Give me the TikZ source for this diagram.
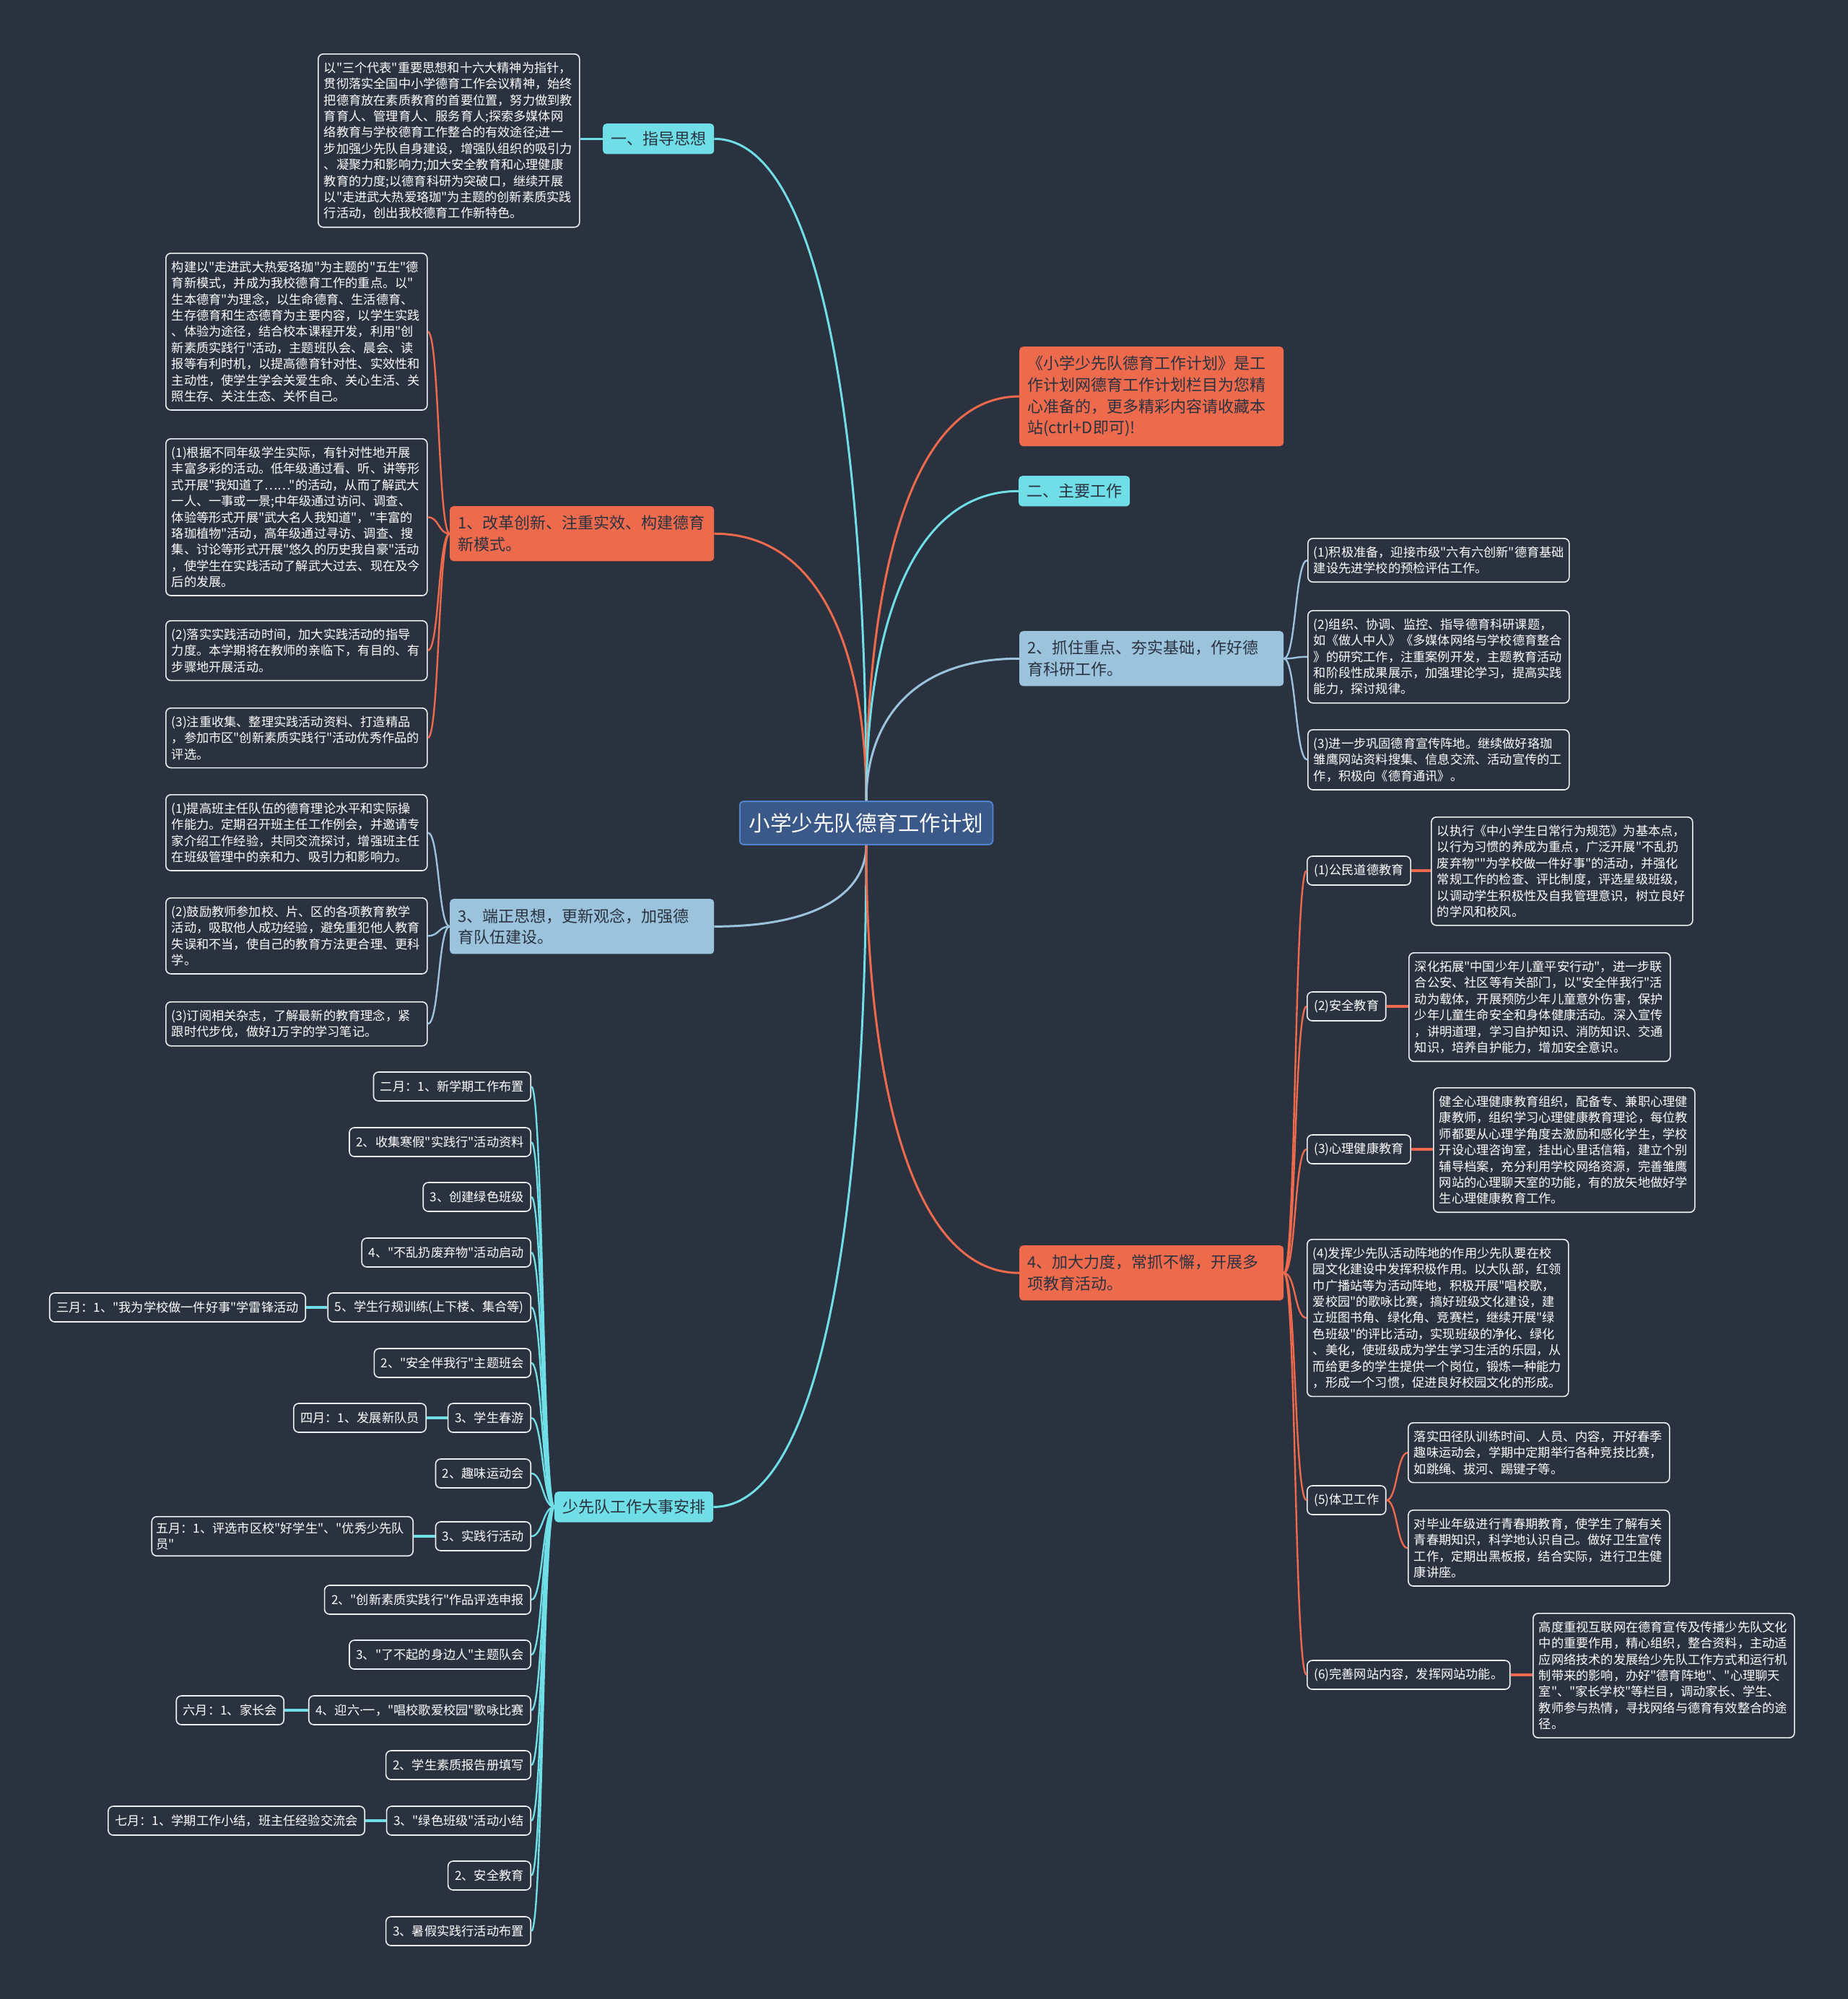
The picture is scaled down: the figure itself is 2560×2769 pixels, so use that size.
\documentclass[tikz,border=0pt]{standalone}
\usepackage{fontspec}
\newfontfamily\cjk{Noto Sans CJK SC}
\newfontfamily\latin{Noto Sans}
\usepackage{tikz}
\usetikzlibrary{calc}
\definecolor{BgDark}{RGB}{42,50,64}
\definecolor{TopicCyan}{RGB}{112,222,230}
\definecolor{TopicOrange}{RGB}{238,106,77}
\definecolor{TopicBlue}{RGB}{156,195,220}
\definecolor{RootBlue}{RGB}{58,88,136}
\definecolor{RootEdge}{RGB}{80,130,205}
\definecolor{LeafEdge}{RGB}{236,238,242}
\tikzset{
  rootnode/.style={fill=RootBlue, draw=RootEdge, line width=2pt, rounded corners=5pt,
    text=white, font=\cjk\fontsize{29.5}{36}\selectfont, inner xsep=13pt, inner ysep=16pt},
  topic/.style={rounded corners=5pt, text=BgDark, font=\cjk\fontsize{22}{29.6}\selectfont,
    inner xsep=11pt, inner ysep=11pt, align=left, anchor=north west},
  topiccyan/.style={topic, fill=TopicCyan},
  topicorange/.style={topic, fill=TopicOrange},
  topicblue/.style={topic, fill=TopicBlue},
  widetopic/.style={text width=344pt, inner ysep=13pt},
  leaf/.style={draw=LeafEdge, line width=1.6pt, fill=BgDark, rounded corners=7pt, text=white,
    font=\cjk\fontsize{17.2}{22.4}\selectfont, inner xsep=9.5pt, inner ysep=4pt, minimum height=40pt},
  note/.style={leaf, minimum height=0pt, text width=346pt, inner xsep=8pt, inner ysep=11pt,
    align=left, anchor=north west},
  mainline/.style={line width=3pt},
  subline/.style={line width=2.4pt},
  linkline/.style={line width=4pt},
}
\begin{document}
\begin{tikzpicture}[x=1pt,y=-1pt]
\fill[BgDark] (0,0) rectangle (2560,2769);
\useasboundingbox (0,0) rectangle (2560,2769);

\node[rootnode] (root) at (1200,1140) {小学少先队德育工作计划};

% first level
\node[topiccyan] (t1) at (835,171) {一、指导思想};
\node[topicorange, widetopic] (t2) at (623,701) {1、改革创新、注重实效、构建德育\\新模式。};
\node[topicblue, widetopic] (t3) at (623,1245) {3、端正思想，更新观念，加强德\\育队伍建设。};
\node[topiccyan] (t4) at (768,2066) {少先队工作大事安排};
\node[topicorange, widetopic] (r0) at (1412,480) {《小学少先队德育工作计划》是工\\作计划网德育工作计划栏目为您精\\心准备的，更多精彩内容请收藏本\\站(ctrl+D即可)!};
\node[topiccyan] (r1) at (1411,659) {二、主要工作};
\node[topicblue, widetopic] (r2) at (1412,874) {2、抓住重点、夯实基础，作好德\\育科研工作。};
\node[topicorange, widetopic] (r3) at (1412,1725) {4、加大力度，常抓不懈，开展多\\项教育活动。};

\foreach \n/\s/\a/\e in {t1/TopicCyan/north/east, t2/TopicOrange/north/east,
    r0/TopicOrange/north/west, r1/TopicCyan/north/west, r2/TopicBlue/north/west,
    t3/TopicBlue/south/east, t4/TopicCyan/south/east, r3/TopicOrange/south/west}
  \draw[mainline, \s] (root.\a) .. controls ($(root.\a)!0.5!(root.\a |- \n.\e)$)
    and ($(root.\a |- \n.\e)!0.25!(\n.\e)$) .. (\n.\e);

% left side
\node[note] (l0) at (440,74) {以"三个代表"重要思想和十六大精神为指针，\\贯彻落实全国中小学德育工作会议精神，始终\\把德育放在素质教育的首要位置，努力做到教\\育育人、管理育人、服务育人;探索多媒体网\\络教育与学校德育工作整合的有效途径;进一\\步加强少先队自身建设，增强队组织的吸引力\\、凝聚力和影响力;加大安全教育和心理健康\\教育的力度;以德育科研为突破口，继续开展\\以"走进武大热爱珞珈"为主题的创新素质实践\\行活动，创出我校德育工作新特色。};
\draw[mainline, TopicCyan] (t1.west) -- (t1.west -| l0.east);

\node[note] (b1) at (229,350) {构建以"走进武大热爱珞珈"为主题的"五生"德\\育新模式，并成为我校德育工作的重点。以"\\生本德育"为理念，以生命德育、生活德育、\\生存德育和生态德育为主要内容，以学生实践\\、体验为途径，结合校本课程开发，利用"创\\新素质实践行"活动，主题班队会、晨会、读\\报等有利时机，以提高德育针对性、实效性和\\主动性，使学生学会关爱生命、关心生活、关\\照生存、关注生态、关怀自己。};
\node[note] (b2) at (229,607) {(1)根据不同年级学生实际，有针对性地开展\\丰富多彩的活动。低年级通过看、听、讲等形\\式开展"我知道了……"的活动，从而了解武大\\一人、一事或一景;中年级通过访问、调查、\\体验等形式开展"武大名人我知道"，"丰富的\\珞珈植物"活动，高年级通过寻访、调查、搜\\集、讨论等形式开展"悠久的历史我自豪"活动\\，使学生在实践活动了解武大过去、现在及今\\后的发展。};
\node[note] (b3) at (229,859) {(2)落实实践活动时间，加大实践活动的指导\\力度。本学期将在教师的亲临下，有目的、有\\步骤地开展活动。};
\node[note] (b4) at (229,980) {(3)注重收集、整理实践活动资料、打造精品\\，参加市区"创新素质实践行"活动优秀作品的\\评选。};
\foreach \c in {b1,b2,b3,b4}
  \draw[subline, TopicOrange] (t2.west) .. controls +(-16,0) and +(16,0) .. (\c.east);

\node[note] (c1) at (229,1100) {(1)提高班主任队伍的德育理论水平和实际操\\作能力。定期召开班主任工作例会，并邀请专\\家介绍工作经验，共同交流探讨，增强班主任\\在班级管理中的亲和力、吸引力和影响力。};
\node[note] (c2) at (229,1243) {(2)鼓励教师参加校、片、区的各项教育教学\\活动，吸取他人成功经验，避免重犯他人教育\\失误和不当，使自己的教育方法更合理、更科\\学。};
\node[note] (c3) at (229,1387) {(3)订阅相关杂志，了解最新的教育理念，紧\\跟时代步伐，做好1万字的学习笔记。};
\foreach \c in {c1,c2,c3}
  \draw[subline, TopicBlue] (t3.west) .. controls +(-16,0) and +(16,0) .. (\c.east);

% events list
\foreach \t/\y [count=\i] in {{二月：1、新学期工作布置}/1505, {2、收集寒假"实践行"活动资料}/1582,
    {3、创建绿色班级}/1658, {4、"不乱扔废弃物"活动启动}/1735, {5、学生行规训练(上下楼、集合等)}/1811,
    {2、"安全伴我行"主题班会}/1888, {3、学生春游}/1964, {2、趣味运动会}/2041,
    {3、实践行活动}/2128, {2、"创新素质实践行"作品评选申报}/2216, {3、"了不起的身边人"主题队会}/2292,
    {4、迎六{\latin ·}一，"唱校歌爱校园"歌咏比赛}/2369, {2、学生素质报告册填写}/2445,
    {3、"绿色班级"活动小结}/2522, {2、安全教育}/2598, {3、暑假实践行活动布置}/2675}
  \node[leaf, anchor=east] (e\i) at (736,\y) {\t};
\foreach \i in {1,...,16}
  \draw[subline, TopicCyan] (t4.west) .. controls +(-16,0) and +(16,0) .. (e\i.east);

\node[leaf, anchor=east] (m3) at (424,1811) {三月：1、"我为学校做一件好事"学雷锋活动};
\node[leaf, anchor=east] (m4) at (591,1964) {四月：1、发展新队员};
\node[note, anchor=east, text width=350pt, inner xsep=6pt, inner ysep=8pt] (m5) at (573,2128) {五月：1、评选市区校"好学生"、"优秀少先队\\员"};
\node[leaf, anchor=east] (m6) at (394,2369) {六月：1、家长会};
\node[leaf, anchor=east] (m7) at (506,2522) {七月：1、学期工作小结，班主任经验交流会};
\foreach \e/\m in {e5/m3, e7/m4, e9/m5, e12/m6, e14/m7}
  \draw[linkline, TopicCyan] (\e.west) -- (\e.west -| \m.east);

% right side
\node[note] (q1) at (1811,745) {(1)积极准备，迎接市级"六有六创新"德育基础\\建设先进学校的预检评估工作。};
\node[note] (q2) at (1811,845) {(2)组织、协调、监控、指导德育科研课题，\\如《做人中人》《多媒体网络与学校德育整合\\》的研究工作，注重案例开发，主题教育活动\\和阶段性成果展示，加强理论学习，提高实践\\能力，探讨规律。};
\node[note] (q3) at (1811,1010) {(3)进一步巩固德育宣传阵地。继续做好珞珈\\雏鹰网站资料搜集、信息交流、活动宣传的工\\作，积极向《德育通讯》。};
\foreach \c in {q1,q2,q3}
  \draw[subline, TopicBlue] (r2.east) .. controls +(17,0) and +(-17,0) .. (\c.west);

\node[leaf, anchor=west] (s1) at (1810,1206) {(1)公民道德教育};
\node[leaf, anchor=west] (s2) at (1810,1394) {(2)安全教育};
\node[leaf, anchor=west] (s3) at (1810,1592) {(3)心理健康教育};
\node[note] (s4) at (1810,1716) {(4)发挥少先队活动阵地的作用少先队要在校\\园文化建设中发挥积极作用。以大队部，红领\\巾广播站等为活动阵地，积极开展"唱校歌，\\爱校园"的歌咏比赛，搞好班级文化建设，建\\立班图书角、绿化角、竞赛栏，继续开展"绿\\色班级"的评比活动，实现班级的净化、绿化\\、美化，使班级成为学生学习生活的乐园，从\\而给更多的学生提供一个岗位，锻炼一种能力\\，形成一个习惯，促进良好校园文化的形成。};
\node[leaf, anchor=west] (s5) at (1810,2078) {(5)体卫工作};
\node[leaf, anchor=west] (s6) at (1810,2320) {(6)完善网站内容，发挥网站功能。};
\foreach \c in {s1,s2,s3,s4,s5,s6}
  \draw[subline, TopicOrange] (r3.east) .. controls +(17,0) and +(-17,0) .. (\c.west);

\node[note] (s1d) at (1982,1131) {以执行《中小学生日常行为规范》为基本点，\\以行为习惯的养成为重点，广泛开展"不乱扔\\废弃物""为学校做一件好事"的活动，并强化\\常规工作的检查、评比制度，评选星级班级，\\以调动学生积极性及自我管理意识，树立良好\\的学风和校风。};
\node[note] (s2d) at (1951,1319) {深化拓展"中国少年儿童平安行动"，进一步联\\合公安、社区等有关部门，以"安全伴我行"活\\动为载体，开展预防少年儿童意外伤害，保护\\少年儿童生命安全和身体健康活动。深入宣传\\，讲明道理，学习自护知识、消防知识、交通\\知识，培养自护能力，增加安全意识。};
\node[note] (s3d) at (1985,1506) {健全心理健康教育组织，配备专、兼职心理健\\康教师，组织学习心理健康教育理论，每位教\\师都要从心理学角度去激励和感化学生，学校\\开设心理咨询室，挂出心里话信箱，建立个别\\辅导档案，充分利用学校网络资源，完善雏鹰\\网站的心理聊天室的功能，有的放矢地做好学\\生心理健康教育工作。};
\node[note] (s5a) at (1950,1970) {落实田径队训练时间、人员、内容，开好春季\\趣味运动会，学期中定期举行各种竞技比赛，\\如跳绳、拔河、踢键子等。};
\node[note] (s5b) at (1950,2091) {对毕业年级进行青春期教育，使学生了解有关\\青春期知识，科学地认识自己。做好卫生宣传\\工作，定期出黑板报，结合实际，进行卫生健\\康讲座。};
\node[note] (s6d) at (2123,2234) {高度重视互联网在德育宣传及传播少先队文化\\中的重要作用，精心组织，整合资料，主动适\\应网络技术的发展给少先队工作方式和运行机\\制带来的影响，办好"德育阵地"、"心理聊天\\室"、"家长学校"等栏目，调动家长、学生、\\教师参与热情，寻找网络与德育有效整合的途\\径。};
\foreach \a/\b in {s1/s1d, s2/s2d, s3/s3d, s6/s6d}
  \draw[linkline, TopicOrange] (\a.east) -- (\a.east -| \b.west);
\foreach \c in {s5a,s5b}
  \draw[subline, TopicOrange] (s5.east) .. controls +(15,0) and +(-15,0) .. (\c.west);
\end{tikzpicture}
\end{document}
